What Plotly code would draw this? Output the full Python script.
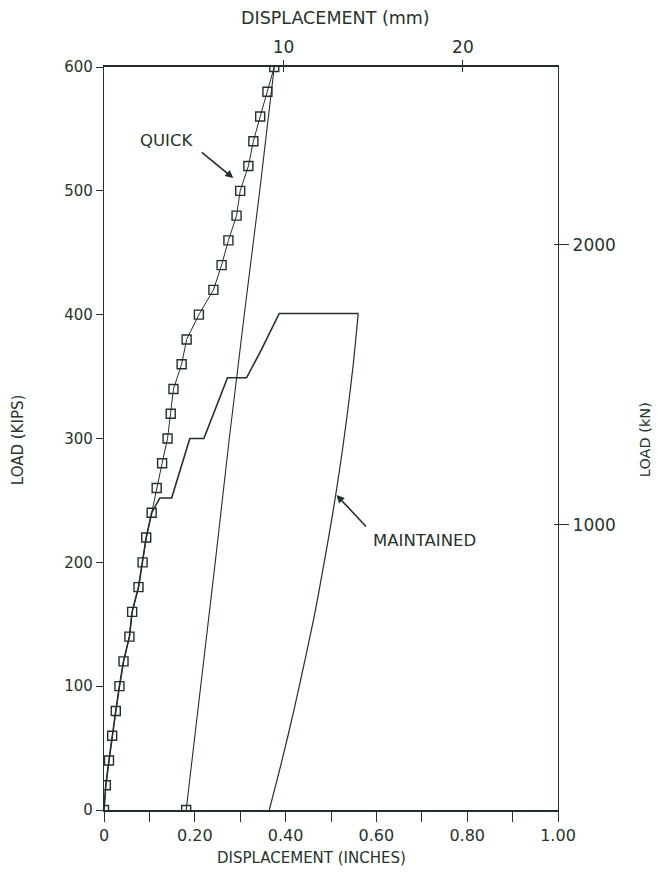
import plotly.graph_objects as go

# Quick test: load steps (kips) and measured displacement (in)
quick_load = [0, 20, 40, 60, 80, 100, 120, 140, 160, 180, 200, 220, 240, 260, 280,
              300, 320, 340, 360, 380, 400, 420, 440, 460, 480, 500, 520, 540, 560, 580, 600]
quick_disp = [0.0, 0.004, 0.011, 0.018, 0.026, 0.034, 0.043, 0.056, 0.062, 0.076, 0.085,
              0.093, 0.105, 0.116, 0.128, 0.140, 0.147, 0.153, 0.171, 0.182, 0.209,
              0.241, 0.259, 0.274, 0.292, 0.300, 0.318, 0.329, 0.344, 0.360, 0.375]

# Quick test unloading
quick_unload_load = [600, 500, 400, 300, 200, 100, 0]
quick_unload_disp = [0.375, 0.343, 0.309, 0.276, 0.245, 0.213, 0.181]

# Maintained test: loading with hold periods
maint_load = [0, 20, 40, 60, 80, 100, 120, 140, 160, 180, 200, 220, 240, 252, 252,
              300, 300, 349, 349, 372, 401, 401]
maint_disp = [0.0, 0.004, 0.011, 0.018, 0.026, 0.034, 0.043, 0.056, 0.062, 0.076, 0.085,
              0.093, 0.105, 0.123, 0.149, 0.189, 0.220, 0.272, 0.314, 0.347, 0.386, 0.560]

# Maintained test unloading
maint_unload_load = [401, 360, 320, 280, 240, 200, 160, 120, 80, 40, 0]
maint_unload_disp = [0.560, 0.549, 0.536, 0.521, 0.504, 0.485, 0.465, 0.442, 0.418, 0.392, 0.364]

# Axis ticks
in_ticks = [0, 0.1, 0.2, 0.3, 0.4, 0.5, 0.6, 0.7, 0.8, 0.9, 1.0]
in_labels = ["0", "", "0.20", "", "0.40", "", "0.60", "", "0.80", "", "1.00"]
kip_ticks = [0, 100, 200, 300, 400, 500, 600]
mm_ticks = [10, 20]
kn_ticks = [1000, 2000]

INK = "#223029"
TXT = "#27332b"
FONT = "DejaVu Sans"

fig = go.Figure()

fig.add_trace(go.Scatter(
    x=maint_disp, y=maint_load, mode="lines",
    line=dict(color=INK, width=1.6), hoverinfo="skip", showlegend=False))

fig.add_trace(go.Scatter(
    x=maint_unload_disp, y=maint_unload_load, mode="lines",
    line=dict(color=INK, width=1.2, shape="spline", smoothing=0.8),
    hoverinfo="skip", showlegend=False))

fig.add_trace(go.Scatter(
    x=quick_unload_disp, y=quick_unload_load, mode="lines",
    line=dict(color=INK, width=1.1), hoverinfo="skip", showlegend=False))

fig.add_trace(go.Scatter(
    x=quick_unload_disp[-1:], y=quick_unload_load[-1:], mode="markers",
    marker=dict(symbol="square-open", size=9, color=INK, line=dict(width=1.4)),
    hoverinfo="skip", showlegend=False))

fig.add_trace(go.Scatter(
    x=quick_disp, y=quick_load, mode="lines+markers",
    line=dict(color=INK, width=1),
    marker=dict(symbol="square-open", size=9, color=INK, line=dict(width=1.4)),
    hoverinfo="skip", showlegend=False))

# secondary unit axes (mm on top, kN on right)
fig.add_trace(go.Scatter(x=[], y=[], xaxis="x2", yaxis="y2", showlegend=False))
fig.add_trace(go.Scatter(x=[], y=[], xaxis="x3", yaxis="y3", showlegend=False))

axis_common = dict(showgrid=False, zeroline=False, linecolor=INK, tickcolor=INK)


def tfont(size):
    return dict(family=FONT, color=TXT, size=size)


fig.update_layout(
    width=667, height=875,
    margin=dict(l=104, r=109, t=67, b=65),
    paper_bgcolor="white", plot_bgcolor="white",
    font=dict(family=FONT, color=TXT),
    xaxis=dict(range=[0, 1], tickvals=in_ticks, ticktext=in_labels,
               showline=True, linewidth=2.2, ticks="outside", ticklen=10, tickwidth=1.2,
               tickfont=tfont(16), **axis_common),
    yaxis=dict(range=[0, 600], tickvals=kip_ticks, showline=True, linewidth=1.4,
               ticks="outside", ticklen=7, tickwidth=1.3, tickfont=tfont(15), **axis_common),
    xaxis2=dict(range=[0, 25.3], overlaying="x", side="top", anchor="y",
                tickvals=mm_ticks, showline=True, linewidth=2.2,
                ticks="outside", ticklen=5, tickwidth=1.3, tickfont=tfont(17), **axis_common),
    yaxis2=dict(range=[-17.9, 2635.7], overlaying="y", side="right", anchor="x",
                tickvals=kn_ticks, showline=True, linewidth=1.4,
                ticks="outside", ticklen=10, tickwidth=1.3, tickfont=tfont(17), **axis_common),
    xaxis3=dict(range=[0, 25.3], overlaying="x", side="top", anchor="y",
                tickvals=mm_ticks, showticklabels=False, showline=False,
                ticks="inside", ticklen=5, tickwidth=1.3, **axis_common),
    yaxis3=dict(range=[-17.9, 2635.7], overlaying="y", side="right", anchor="x",
                tickvals=kn_ticks, showticklabels=False, showline=False,
                ticks="inside", ticklen=4, tickwidth=1.3, **axis_common),
)

# axis titles
fig.add_annotation(text="DISPLACEMENT (mm)", xref="paper", yref="paper", x=0.509, y=1.066,
                   showarrow=False, font=tfont(17.5), xanchor="center", yanchor="middle")
fig.add_annotation(text="DISPLACEMENT (INCHES)", xref="paper", yref="paper", x=0.456, y=-0.0646,
                   showarrow=False, font=tfont(15), xanchor="center", yanchor="middle")
fig.add_annotation(text="LOAD (KIPS)", xref="paper", yref="paper", x=-0.189, y=0.498, textangle=-90,
                   showarrow=False, font=tfont(15), xanchor="center", yanchor="middle")
fig.add_annotation(text="LOAD (kN)", xref="paper", yref="paper", x=1.192, y=0.498, textangle=-90,
                   showarrow=False, font=tfont(14.5), xanchor="center", yanchor="middle")

# curve labels with arrows
fig.add_annotation(text="QUICK", x=0.138, y=541, xref="x", yref="y", showarrow=False,
                   font=tfont(16.5))
fig.add_annotation(text="", x=0.2848, y=510.3, xref="x", yref="y", showarrow=True,
                   ax=-33, ay=-27, arrowhead=2, arrowsize=1, arrowwidth=1.6,
                   arrowcolor=INK, standoff=0)
fig.add_annotation(text="MAINTAINED", x=0.706, y=218, xref="x", yref="y", showarrow=False,
                   font=tfont(16.5))
fig.add_annotation(text="", x=0.512, y=254.4, xref="x", yref="y", showarrow=True,
                   ax=31, ay=33, arrowhead=2, arrowsize=1, arrowwidth=1.6,
                   arrowcolor=INK, standoff=0)

fig.write_html("out.html")
